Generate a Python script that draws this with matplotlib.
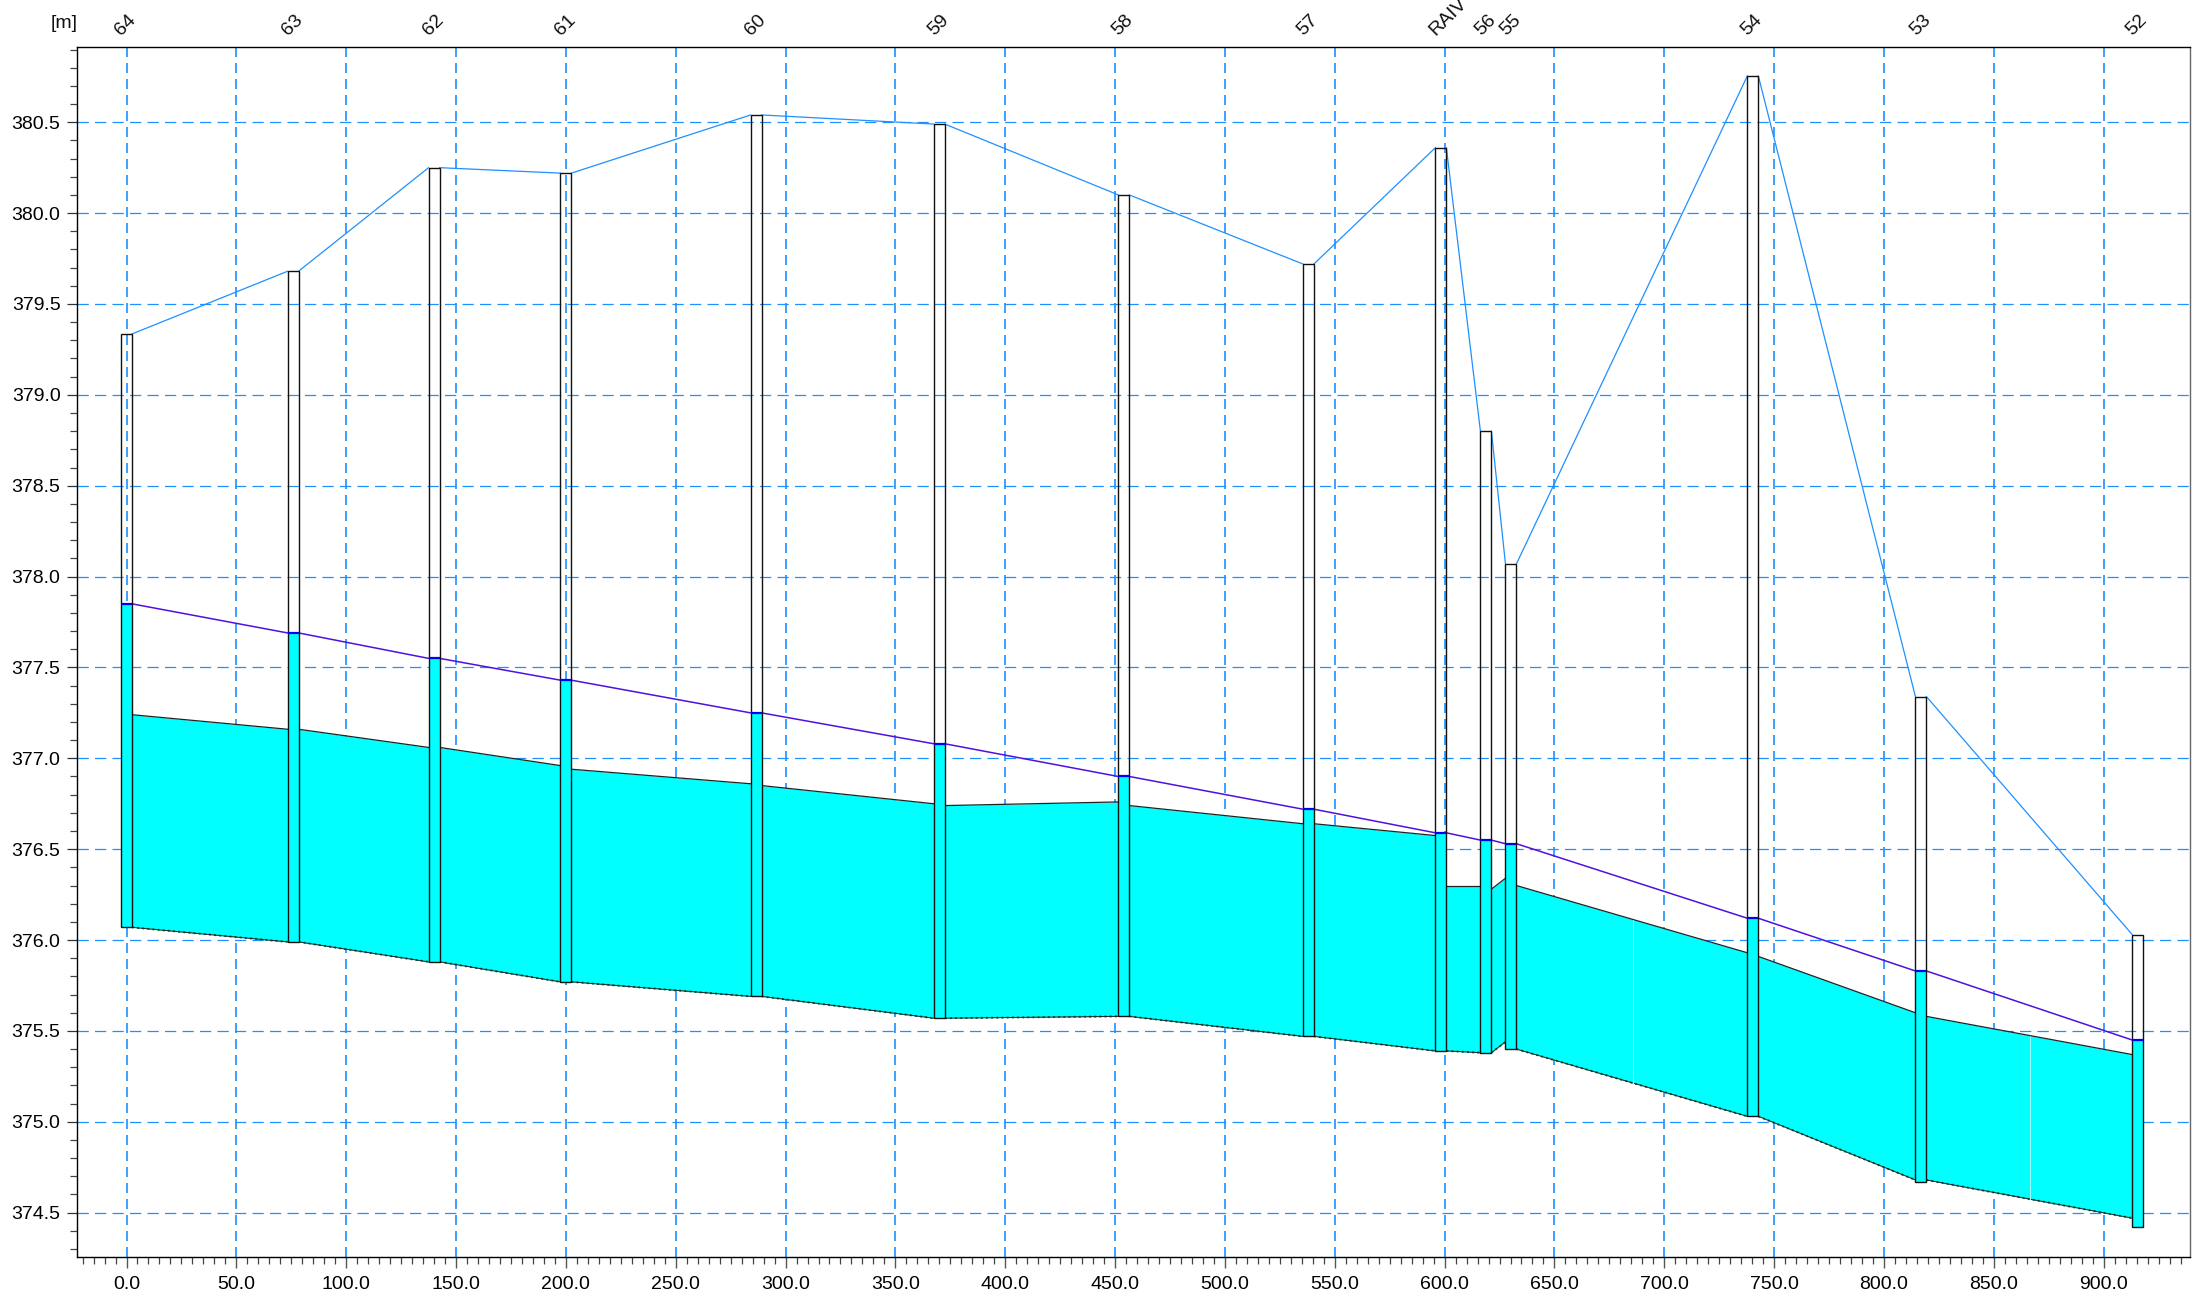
import matplotlib
matplotlib.use("Agg")
import matplotlib.pyplot as plt
from matplotlib.ticker import MultipleLocator, FormatStrFormatter

# shafts, upstream to downstream
names = ['64', '63', '62', '61', '60', '59', '58', '57', 'RAIV', '56', '55', '54', '53', '52']
station = [0.0, 75.8, 140.0, 200.0, 286.6, 370.0, 454.0, 538.0, 598.3, 618.8, 630.2, 740.3, 816.8, 915.5]
ground = [379.335, 379.68, 380.25, 380.22, 380.54, 380.49, 380.10, 379.72, 380.36, 378.80, 378.07, 380.755, 377.34, 376.03]
water = [377.85, 377.69, 377.55, 377.43, 377.25, 377.08, 376.90, 376.72, 376.59, 376.55, 376.53, 376.12, 375.83, 375.45]
shaft_bottom = [376.07, 375.99, 375.88, 375.77, 375.69, 375.57, 375.58, 375.47, 375.39, 375.38, 375.40, 375.03, 374.67, 374.42]

# pipes between neighbouring shafts: (start, end) levels
crown_start = [377.24, 377.16, 377.06, 376.94, 376.85, 376.74, 376.74, 376.64, 376.30, 376.28, 376.30, 375.91, 375.58]
crown_end = [377.16, 377.06, 376.96, 376.86, 376.75, 376.76, 376.64, 376.575, 376.30, 376.34, 375.93, 375.60, 375.37]
invert_start = [376.07, 375.99, 375.88, 375.77, 375.69, 375.57, 375.58, 375.47, 375.39, 375.38, 375.40, 375.03, 374.68]
invert_end = [375.99, 375.88, 375.77, 375.69, 375.57, 375.58, 375.47, 375.39, 375.38, 375.44, 375.03, 374.68, 374.47]

# pale pipe joints
joint_x = [685.8, 866.5]
joint_top = [376.11, 375.47]
joint_bottom = [375.21, 374.57]

SHAFT_W = 5.0
GRID = '#1E90FF'
CYAN = '#00FFFF'


def main():
    plt.rcParams['font.family'] = ['Liberation Sans', 'DejaVu Sans']
    fig = plt.figure(figsize=(22.01, 13.02), dpi=100)
    ax = fig.add_axes([76.5 / 2201, 1 - 1257 / 1302, (2190 - 76.5) / 2201, (1257 - 47) / 1302])
    ax.set_xlim(-22.76, 939.3)
    ax.set_ylim(374.256, 380.914)

    ax.xaxis.set_major_locator(MultipleLocator(50))
    ax.xaxis.set_minor_locator(MultipleLocator(5))
    ax.yaxis.set_major_locator(MultipleLocator(0.5))
    ax.yaxis.set_minor_locator(MultipleLocator(0.1))
    ax.xaxis.set_major_formatter(FormatStrFormatter('%.1f'))
    ax.yaxis.set_major_formatter(FormatStrFormatter('%.1f'))
    ax.tick_params(axis='x', which='major', length=8, width=1.0, pad=6, labelsize=14, color='#555555')
    ax.tick_params(axis='y', which='major', length=7.5, width=0.9, pad=4, labelsize=14, color='#333333')
    ax.tick_params(axis='both', which='minor', length=5, width=0.9, color='#444444')
    ax.set_axisbelow(True)
    ax.grid(True, axis='x', which='major', color=GRID, lw=1.2, dashes=(6, 3.6))
    ax.grid(True, axis='y', which='major', color=GRID, lw=0.9, dashes=(9, 5))
    for side in ax.spines:
        ax.spines[side].set_linewidth(1.0)
    ax.spines['right'].set_color('#666666')

    # pipes
    for i in range(len(station) - 1):
        xs = [station[i] + SHAFT_W / 2, station[i + 1] - SHAFT_W / 2]
        ax.fill_between(xs, [invert_start[i], invert_end[i]], [crown_start[i], crown_end[i]],
                        color=CYAN, lw=0, zorder=2)
        ax.plot(xs, [crown_start[i], crown_end[i]], color='#222222', lw=0.9, zorder=3)
        ax.plot(xs, [invert_start[i], invert_end[i]], color='#006633', lw=1.4, ls=':', zorder=3)
        ax.plot(xs, [invert_start[i], invert_end[i]], color='#222222', lw=0.7, zorder=3)
        # ground and water surface
        ax.plot(xs, [ground[i], ground[i + 1]], color=GRID, lw=0.9, zorder=3)
        ax.plot(xs, [water[i], water[i + 1]], color='#5010E0', lw=1.1, zorder=4)

    ax.vlines(joint_x, joint_bottom, joint_top, color='#A8FFFF', lw=0.7, zorder=3)

    # shafts
    for x, g, w, b in zip(station, ground, water, shaft_bottom):
        ax.bar(x, w - b, SHAFT_W, bottom=b, color=CYAN, lw=0, zorder=4)
        ax.bar(x, g - b, SHAFT_W, bottom=b, fill=False, edgecolor='#111111', lw=1.0, zorder=5)
        ax.plot([x - SHAFT_W / 2, x + SHAFT_W / 2], [w, w], color='#0000FF', lw=1.6, zorder=6,
                solid_capstyle='butt')

    # shaft names along the top edge
    for x, name in zip(station, names):
        ax.annotate(name, xy=(x, 1), xycoords=('data', 'axes fraction'), xytext=(-6, 10),
                    textcoords='offset points', rotation=45, rotation_mode='anchor',
                    ha='left', va='center', fontsize=14, color='#111111', annotation_clip=False)
    fig.text(64 / 2201, 1 - 23 / 1302, '[m]', ha='center', va='center', fontsize=14, color='#111111')

    fig.savefig('out.png', dpi=100, facecolor='white')


if __name__ == "__main__":
    main()
